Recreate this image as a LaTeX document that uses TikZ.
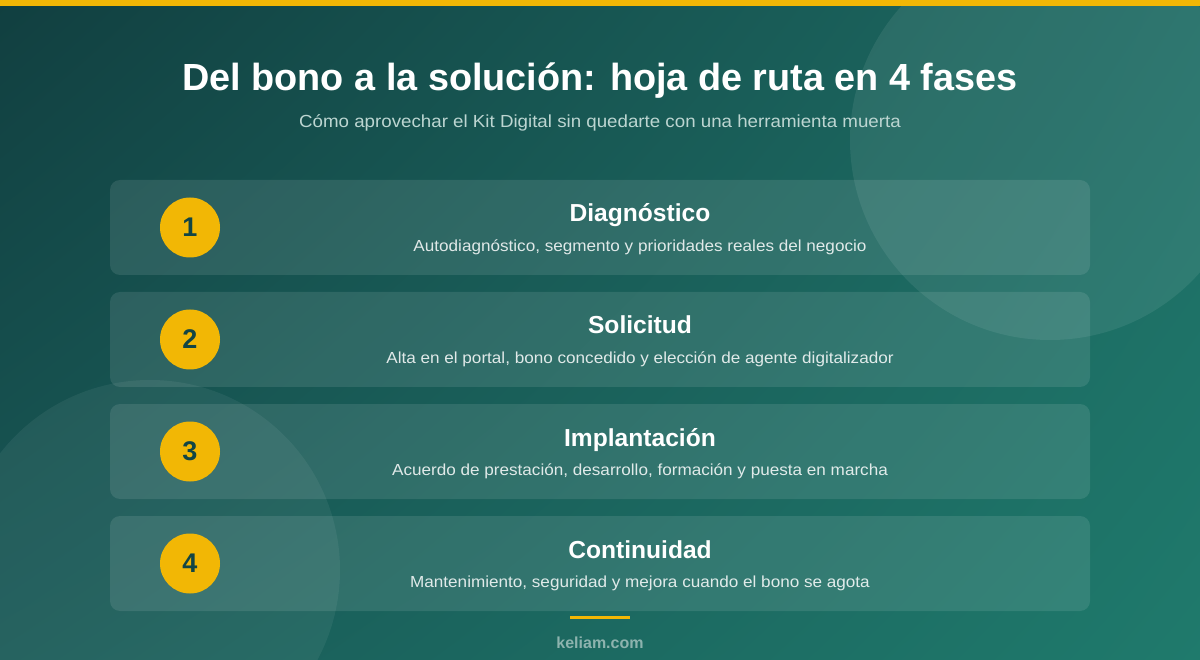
\documentclass[tikz,border=0pt]{standalone}
\usepackage{fontspec}
\setmainfont{Liberation Sans}
\newfontfamily\widesans[FakeStretch=1.07]{Liberation Sans}
\usetikzlibrary{positioning,shadings}
\definecolor{kgold}{HTML}{F2B705}
\definecolor{kdark}{HTML}{124545}
\definecolor{kbgA}{HTML}{113F40}
\definecolor{kbgB}{HTML}{1D6B63}
\definecolor{kbgC}{HTML}{195A57}
\definecolor{kbgD}{HTML}{1F7A6C}
\definecolor{ksub}{HTML}{BCD5D1}
\definecolor{kfoot}{HTML}{8DB3AE}
\tikzset{%
	card/.style       = {rectangle, fill=white, fill opacity=0.1, rounded corners=10pt, minimum width=980pt, minimum height=95pt, inner sep=0pt},
	badge/.style      = {circle, fill=kgold, minimum size=60pt, inner sep=0pt, text=kdark, font=\fontsize{27}{27}\selectfont\bfseries},
	phasetitle/.style = {anchor=base, text=white, font=\fontsize{24.6}{24.6}\selectfont\bfseries},
	phasetext/.style  = {anchor=base, text=white, text opacity=0.85, font=\widesans\fontsize{16}{16}\selectfont},
	maintitle/.style  = {anchor=base, text=white, font=\fontsize{37.8}{37.8}\selectfont\bfseries},
	subtitle/.style   = {anchor=base, text=ksub, font=\widesans\fontsize{17.5}{17.5}\selectfont},
}

\begin{document}
\begin{tikzpicture}[x=1pt,y=-1pt]
	\useasboundingbox (0,0) rectangle (1200,660);
	\shade[upper left=kbgA, upper right=kbgB, lower left=kbgC, lower right=kbgD] (0,0) rectangle (1200,660);
	
	% soft circles in the background
	\begin{scope}
		\clip (0,0) rectangle (1200,660);
		\fill[white,fill opacity=0.08] (1050,140) circle[radius=200];
		\fill[white,fill opacity=0.06] (150,570) circle[radius=190];
	\end{scope}
	\fill[kgold] (0,0) rectangle (1200,6);
	
	\node[maintitle] (title) at (600,91) {Del bono a la solución: hoja de ruta en 4 fases};
	\node[subtitle] (subtitle) at (600,128) {Cómo aprovechar el Kit Digital sin quedarte con una herramienta muerta};
	
	\foreach \n/\name/\desc [evaluate=\n as \ymid using 227.5+112*(\n-1)] in {%
		1/Diagnóstico/{Autodiagnóstico, segmento y prioridades reales del negocio},
		2/Solicitud/{Alta en el portal, bono concedido y elección de agente digitalizador},
		3/Implantación/{Acuerdo de prestación, desarrollo, formación y puesta en marcha},
		4/Continuidad/{Mantenimiento, seguridad y mejora cuando el bono se agota}}
	{
		\node[card] (card\n) at (600,\ymid) {};
		\node[badge] (badge\n) at (190,\ymid) {\n};
		\node[phasetitle] (name\n) at (640,\ymid-5.5) {\name};
		\node[phasetext] (desc\n) at (640,\ymid+24) {\desc};
	}
	
	\fill[kgold] (570,616) rectangle (630,619);
	\node[anchor=base, text=kfoot, font=\fontsize{16}{16}\selectfont\bfseries] (site) at (600,648) {keliam.com};
\end{tikzpicture}
\end{document}
